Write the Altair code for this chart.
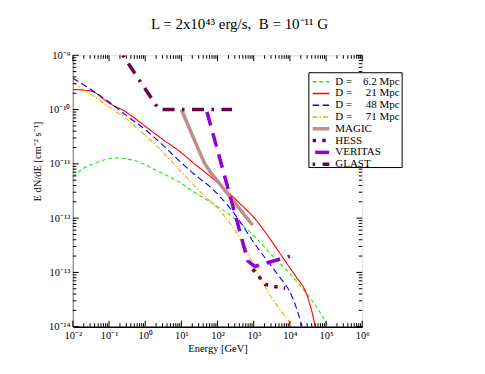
import altair as alt
import pandas as pd

# ---------------- data: log10(E / GeV) and log10(E dN/dE / cm^-2 s^-1)
d62_logE = [-2.0, -1.7, -1.44, -1.1, -0.84, -0.5, -0.15, 0.3, 0.68, 0.95, 1.3, 1.87, 2.42, 3.07, 3.5, 3.9, 4.45, 4.8, 5.0, 5.05]
d62_logF = [-11.24, -11.08, -11.0, -10.92, -10.89, -10.91, -10.97, -11.12, -11.24, -11.34, -11.5, -11.73, -11.98, -12.37, -12.68, -12.95, -13.38, -13.7, -13.93, -14.0]

d21_logE = [-2.0, -1.5, -1.0, -0.52, -0.15, 0.4, 0.95, 1.4, 1.87, 2.52, 3.07, 3.53, 3.9, 4.17, 4.45, 4.6, 4.68, 4.72]
d21_logF = [-9.63, -9.66, -9.88, -10.05, -10.23, -10.51, -10.77, -11.02, -11.27, -11.67, -12.04, -12.46, -12.82, -13.08, -13.38, -13.7, -13.93, -14.05]

d48_logE = [-2.0, -1.5, -0.98, -0.5, 0.0, 0.4, 0.95, 1.32, 1.87, 2.3, 2.7, 2.93, 3.3, 3.71, 4.0, 4.15, 4.31, 4.34]
d48_logF = [-9.42, -9.63, -9.87, -10.12, -10.37, -10.6, -10.95, -11.17, -11.47, -11.78, -12.14, -12.38, -12.72, -13.08, -13.36, -13.6, -13.93, -14.0]

d71_logE = [-2.0, -1.5, -0.98, -0.5, -0.15, 0.4, 0.9, 1.5, 2.15, 2.65, 3.16, 3.53, 3.8, 3.99, 4.03]
d71_logF = [-9.5, -9.72, -9.96, -10.18, -10.39, -10.72, -11.08, -11.5, -11.93, -12.4, -13.08, -13.5, -13.75, -13.93, -14.0]

magic_logE = [1.0, 1.5, 1.65, 1.8, 2.97]
magic_logF = [-10.0, -10.78, -11.0, -11.15, -12.13]

hess_logE = [2.97, 3.16, 3.32, 3.57, 3.87]
hess_logF = [-12.94, -13.09, -13.22, -13.26, -13.29]

veritas_logE = [1.69, 2.84, 3.03, 4.0]
veritas_logF = [-10.0, -12.79, -12.89, -12.70]

glast_logE = [-0.62, 0.38, 2.4]
glast_logF = [-9.0, -10.0, -10.0]

NB = "\u00a0"
series_names = ["D = 6.2 Mpc", "D = 21 Mpc", "D = 48 Mpc", "D = 71 Mpc", "MAGIC", "HESS", "VERITAS", "GLAST"]
legend_labels = ["D =" + NB * 4 + "6.2 Mpc", "D =" + NB * 5 + "21 Mpc", "D =" + NB * 5 + "48 Mpc",
                 "D =" + NB * 5 + "71 Mpc", "MAGIC", "HESS", "VERITAS", "GLAST"]
series_colors = ["#11ee11", "#ff0000", "#0000ff", "#ffa500", "#bc8f8f", "#670748", "#9400d3", "#670748"]
series_dashes = [[4, 2.7], [1, 0], [6.5, 3.5], [5, 2, 1.5, 2], [1, 0], [3.5, 6.2], [14, 8], [12, 7.5, 2.5, 7.5]]

x_decades = [-2, -1, 0, 1, 2, 3, 4, 5, 6]
y_decades = [-14, -13, -12, -11, -10, -9]
x_sup = ["⁻²", "⁻¹", "⁰", "¹", "²", "³", "⁴", "⁵", "⁶"]
y_sup = ["⁻¹⁴", "⁻¹³", "⁻¹²", "⁻¹¹", "⁻¹⁰", "⁻⁹"]

title_text = "L = 2x10⁴³ erg/s," + NB + NB + "B = 10⁻¹¹ G"
x_title = "Energy [GeV]"
y_title = "E dN/dE [cm⁻² s⁻¹]"

# ---------------- tables
rows = []
model = [(0, d62_logE, d62_logF), (1, d21_logE, d21_logF), (2, d48_logE, d48_logF), (3, d71_logE, d71_logF)]
instr = [(4, magic_logE, magic_logF), (5, hess_logE, hess_logF), (6, veritas_logE, veritas_logF), (7, glast_logE, glast_logF)]
for grp, lst in (("model", model), ("instr", instr)):
    for k, le, lf in lst:
        for i, (a, b) in enumerate(zip(le, lf)):
            rows.append({"series": series_names[k], "grp": grp, "i": i, "E": 10.0 ** a, "F": 10.0 ** b})
df = pd.DataFrame(rows)

xt_major = pd.DataFrame({"v": [10.0 ** d for d in x_decades]})
xt_minor = pd.DataFrame({"v": [m * 10.0 ** d for d in x_decades[:-1] for m in range(2, 10)]})
yt_major = pd.DataFrame({"v": [10.0 ** d for d in y_decades]})
yt_minor = pd.DataFrame({"v": [m * 10.0 ** d for d in y_decades[:-1] for m in range(2, 10)]})

leg = pd.DataFrame({"series": series_names, "label": legend_labels, "row": list(range(8)),
                    "grp": ["model"] * 4 + ["instr"] * 4})

W, H = 290, 272
FONT = "Liberation Serif"

xscale = alt.Scale(type="log", domain=[1e-2, 1e6], nice=False)
yscale = alt.Scale(type="log", domain=[1e-14, 1e-9], nice=False)

x_label_expr = "'10' + " + str(x_sup) + "[round(log(datum.value)/LN10) + 2]"
y_label_expr = "'10' + " + str(y_sup) + "[round(log(datum.value)/LN10) + 14]"

xaxis = alt.Axis(values=[10.0 ** d for d in x_decades], labelExpr=x_label_expr, ticks=False, grid=False,
                 title=x_title, labelFont=FONT, labelFontSize=10.5, titleFont=FONT, titleFontSize=10.5,
                 titleFontWeight="normal", labelColor="black", titleColor="black", labelPadding=4,
                 titlePadding=2, domainColor="black", domainWidth=1.5, labelFlush=False)
yaxis = alt.Axis(values=[10.0 ** d for d in y_decades], labelExpr=y_label_expr, ticks=False, grid=False,
                 title=y_title, labelFont=FONT, labelFontSize=10.5, titleFont=FONT, titleFontSize=10.5,
                 titleFontWeight="normal", labelColor="black", titleColor="black", labelPadding=3,
                 titlePadding=6, titleY=106, domainColor="#999999", domainWidth=1.5, labelFlush=False)

cscale = alt.Scale(domain=series_names, range=series_colors)
dscale = alt.Scale(domain=series_names, range=series_dashes)

def style_enc():
    return dict(color=alt.Color("series:N", scale=cscale, legend=None),
                strokeDash=alt.StrokeDash("series:N", scale=dscale, legend=None))

model_lines = alt.Chart(df).transform_filter("datum.grp == 'model'").mark_line(
    clip=True, interpolate="monotone", strokeWidth=1.1).encode(
    x=alt.X("E:Q", scale=xscale, axis=xaxis),
    y=alt.Y("F:Q", scale=yscale, axis=yaxis),
    order="i:Q", **style_enc())

instr_lines = alt.Chart(df).transform_filter("datum.grp == 'instr'").mark_line(
    clip=True, strokeDashOffset=19.5, strokeWidth=3.5).encode(
    x=alt.X("E:Q", scale=xscale, axis=xaxis),
    y=alt.Y("F:Q", scale=yscale, axis=yaxis),
    order="i:Q", **style_enc())

def xticks(data, y0, y1):
    return alt.Chart(data).mark_rule(color="black", strokeWidth=1).encode(
        x=alt.X("v:Q", scale=xscale, axis=xaxis), y=alt.value(y0), y2=alt.value(y1))

def yticks(data, x0, x1):
    return alt.Chart(data).mark_rule(color="black", strokeWidth=1).encode(
        y=alt.Y("v:Q", scale=yscale, axis=yaxis), x=alt.value(x0), x2=alt.value(x1))

ticks = [xticks(xt_major, H, H - 6), xticks(xt_minor, H, H - 3.5),
         xticks(xt_major, 0, 6), xticks(xt_minor, 0, 3.5),
         yticks(yt_major, 0, 6), yticks(yt_minor, 0, 3.5),
         yticks(yt_major, W, W - 6), yticks(yt_minor, W, W - 3.5)]

main = alt.layer(model_lines, instr_lines, *ticks)

# ---------------- legend (drawn inside the plot, upper right)
legy = alt.Y("row:Q", scale=alt.Scale(domain=[0, 7], range=[26.5, 109.1]), axis=None)
box = alt.Chart(pd.DataFrame({"a": [0]})).mark_rect(fill="white", stroke="black", strokeWidth=1).encode(
    x=alt.value(236.5), x2=alt.value(330), y=alt.value(17.5), y2=alt.value(112.5))
leg_model = alt.Chart(leg).transform_filter("datum.grp == 'model'").mark_rule(strokeWidth=1.4).encode(
    y=legy, x=alt.value(240.3), x2=alt.value(257), **style_enc())
leg_instr = alt.Chart(leg).transform_filter("datum.grp == 'instr'").mark_rule(
    strokeDashOffset=19.5, strokeWidth=3.5).encode(
    y=legy, x=alt.value(240.3), x2=alt.value(257), **style_enc())
leg_text = alt.Chart(leg).mark_text(align="left", baseline="middle", font=FONT, fontSize=11,
                                    color="black").encode(y=legy, x=alt.value(263), text="label:N")
legend_layer = alt.layer(box, leg_model, leg_instr, leg_text)

chart = alt.layer(main, legend_layer).resolve_scale(y="independent").properties(
    width=W, height=H,
    autosize=alt.AutoSizeParams(type="none"),
    padding={"left": 65, "top": 47, "right": 115, "bottom": 39},
    title=alt.TitleParams(title_text, font=FONT, fontSize=15, fontWeight="normal", color="black",
                          anchor="middle", dx=22, offset=18),
).configure_view(stroke="black", strokeWidth=1.2).configure(background="white")

chart.save("out.html", embed_options={"renderer": "svg", "actions": False})
